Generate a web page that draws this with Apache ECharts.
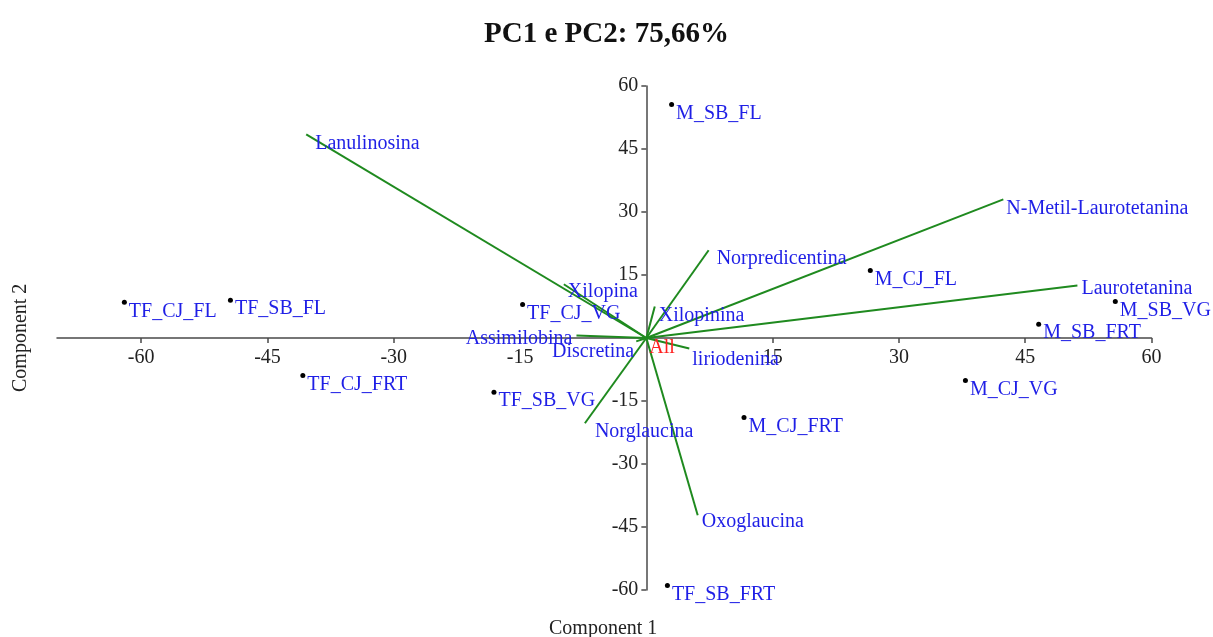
<!DOCTYPE html>
<html>
<head>
<meta charset="utf-8">
<style>
  html, body { margin: 0; padding: 0; background: #fff; }
  #chart { width: 1213px; height: 637px; }
</style>
<script src="https://cdn.jsdelivr.net/npm/echarts@6/dist/echarts.min.js"></script>
</head>
<body>
<div id="chart"></div>
<script>
// sample scores (PC1, PC2)
const sampleNames = ['TF_CJ_FL', 'TF_SB_FL', 'TF_CJ_FRT', 'TF_CJ_VG', 'TF_SB_VG', 'M_SB_FL',
  'M_CJ_FL', 'M_SB_VG', 'M_SB_FRT', 'M_CJ_VG', 'M_CJ_FRT', 'TF_SB_FRT']
const sampleX = [-62.0, -49.4, -40.8, -14.7, -18.1, 3.0, 26.6, 55.7, 46.6, 37.9, 11.6, 2.5]
const sampleY = [8.5, 9.0, -8.9, 8.0, -12.9, 55.6, 16.1, 8.7, 3.3, -10.1, -18.9, -58.9]

// variable loadings (biplot vectors)
const loadingNames = ['Lanulinosina', 'N-Metil-Laurotetanina', 'Laurotetanina', 'Norpredicentina',
  'Xilopina', 'Xilopinina', 'Assimilobina', 'Discretina', 'liriodenina', 'Norglaucina', 'Oxoglaucina']
const loadingX = [-40.4, 42.4, 51.2, 7.4, -9.8, 1.0, -8.3, -1.2, 5.1, -7.3, 6.1]
const loadingY = [48.5, 33.0, 12.5, 20.9, 12.8, 7.5, 0.6, -0.8, -2.5, -20.3, -42.2]

const groupName = 'All'
const tickValues = [-60, -45, -30, -15, 15, 30, 45, 60]

// label placement for the vector ends
const loadingLabelPos = {
  'Lanulinosina': ['right', 9, 9],
  'N-Metil-Laurotetanina': ['right', 3, 9],
  'Laurotetanina': ['right', 4, 3],
  'Norpredicentina': ['right', 8, 9],
  'Xilopina': ['right', 4, 8],
  'Xilopinina': ['right', 4, 9],
  'Assimilobina': ['left', -4, 3],
  'Discretina': ['left', -2, 10],
  'liriodenina': ['right', 3, 11],
  'Norglaucina': ['right', 10, 8],
  'Oxoglaucina': ['right', 4, 7]
}

const serif = "'Liberation Serif', 'Times New Roman', serif"
const blue = '#1f1fe6'
const green = '#1f8a1f'
const axisColor = '#4a4a4a'

const gridLeft = 57, gridRight = 61.5, gridTop = 86, gridBottom = 47
const xMin = -70, xMax = 60, yMin = -60, yMax = 60

const chart = echarts.init(document.getElementById('chart'))

// shift the axes so they cross at the origin (labels follow the lines)
const gridW = 1213 - gridLeft - gridRight
const gridH = 637 - gridTop - gridBottom
const yAxisOffset = -gridW * (0 - xMin) / (xMax - xMin)
const xAxisOffset = -gridH * (0 - yMin) / (yMax - yMin)

const option = {
  backgroundColor: '#fff',
  animation: false,
  title: {
    text: 'PC1 e PC2: 75,66%',
    left: 'center',
    top: 15,
    textStyle: { fontFamily: serif, fontSize: 29, fontWeight: 'bold', color: '#111' }
  },
  graphic: [
    {
      type: 'text', left: 549, top: 619,
      style: { text: 'Component 1', font: '20px ' + serif, fill: '#222' }
    },
    {
      type: 'text', x: 11, y: 392, rotation: Math.PI / 2,
      style: { text: 'Component 2', font: '20px ' + serif, fill: '#222' }
    }
  ],
  grid: { left: gridLeft, right: gridRight, top: gridTop, bottom: gridBottom, containLabel: false },
  xAxis: {
    type: 'value',
    min: xMin,
    max: xMax,
    offset: xAxisOffset,
    splitLine: { show: false },
    axisLine: { onZero: false, lineStyle: { color: axisColor, width: 1.5 } },
    axisTick: { customValues: tickValues, length: 5, lineStyle: { color: axisColor, width: 1.5 } },
    axisLabel: {
      customValues: tickValues, margin: 10,
      fontFamily: serif, fontSize: 20, color: '#222'
    }
  },
  yAxis: {
    type: 'value',
    min: yMin,
    max: yMax,
    offset: yAxisOffset,
    splitLine: { show: false },
    axisLine: { onZero: false, lineStyle: { color: axisColor, width: 1.5 } },
    axisTick: { customValues: tickValues, length: 5, lineStyle: { color: axisColor, width: 1.5 } },
    axisLabel: {
      customValues: tickValues, margin: 8,
      fontFamily: serif, fontSize: 20, color: '#222'
    }
  },
  series: [
    {
      type: 'lines',
      coordinateSystem: 'cartesian2d',
      silent: true,
      lineStyle: { color: green, width: 2, opacity: 1 },
      data: loadingNames.map((n, i) => ({ coords: [[0, 0], [loadingX[i], loadingY[i]]] }))
    },
    {
      type: 'scatter',
      symbolSize: 0,
      silent: true,
      itemStyle: { opacity: 1 },
      data: loadingNames.map((n, i) => {
        const p = loadingLabelPos[n]
        return {
          name: n,
          value: [loadingX[i], loadingY[i]],
          label: {
            show: true, position: p[0], distance: 0, offset: [p[1], p[2]],
            formatter: '{b}', fontFamily: serif, fontSize: 20, color: blue
          }
        }
      })
    },
    {
      type: 'scatter',
      symbolSize: 5,
      silent: true,
      itemStyle: { color: '#000', opacity: 1 },
      label: {
        show: true, position: 'right', distance: 2, offset: [0, 9],
        formatter: '{b}', fontFamily: serif, fontSize: 20, color: blue
      },
      data: sampleNames.map((n, i) => ({ name: n, value: [sampleX[i], sampleY[i]] }))
    },
    {
      type: 'scatter',
      symbolSize: 0,
      silent: true,
      itemStyle: { opacity: 1 },
      label: {
        show: true, position: 'right', distance: 0, offset: [3, 10],
        formatter: '{b}', fontFamily: serif, fontSize: 20, color: '#ff2020'
      },
      data: [{ name: groupName, value: [0, 0] }]
    }
  ]
}

chart.setOption(option)
</script>
</body>
</html>
